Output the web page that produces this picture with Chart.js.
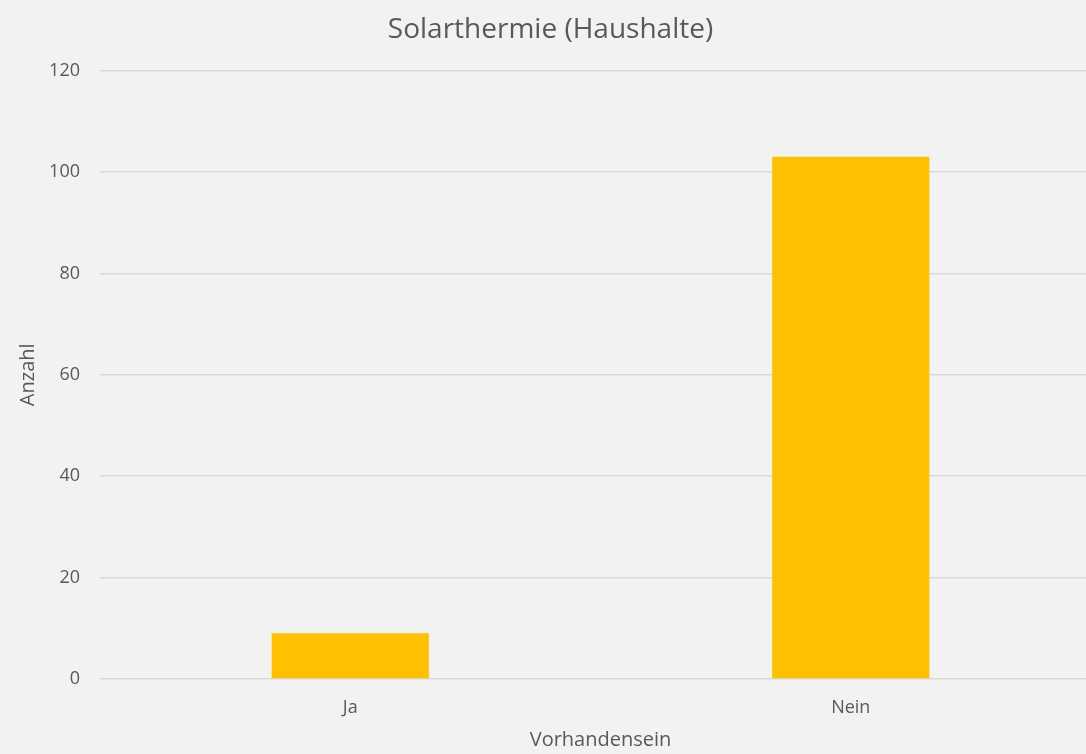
<!DOCTYPE html>
<html>
<head>
<meta charset="utf-8">
<script src="https://cdn.jsdelivr.net/npm/chart.js@4"></script>
<style>
  html, body { margin: 0; padding: 0; background: #f2f2f2; overflow: hidden; }
  #wrap { width: 1101px; height: 754px; }
</style>
</head>
<body>
<div id="wrap"><canvas id="myChart"></canvas></div>
<script>
// Werte
const categories = ['Ja', 'Nein'];
const counts = [9, 103];
const yTicks = [0, 20, 40, 60, 80, 100, 120];

const fontFamily = "'Open Sans', 'Liberation Sans', sans-serif";
const textColor = '#595959';

const ctx = document.getElementById('myChart').getContext('2d');

window.myChart = new Chart(ctx, {
    type: 'bar',
    data: {
        labels: categories,
        datasets: [{
            label: 'Anzahl',
            data: counts,
            backgroundColor: '#ffc000',
            borderWidth: 0,
            barPercentage: 1,
            categoryPercentage: 0.314
        }]
    },
    options: {
        responsive: true,
        maintainAspectRatio: false,
        animation: false,
        layout: { padding: 0 },
        plugins: {
            legend: { display: false },
            tooltip: { enabled: false },
            title: {
                display: true,
                text: 'Solarthermie (Haushalte)',
                color: textColor,
                font: { family: fontFamily, size: 28, weight: 'normal' },
                padding: { top: 13, bottom: 24 }
            }
        },
        scales: {
            x: {
                grid: { display: false },
                border: { display: false },
                ticks: {
                    color: textColor,
                    font: { family: fontFamily, size: 18 },
                    padding: 10
                },
                title: {
                    display: true,
                    text: 'Vorhandensein',
                    color: textColor,
                    font: { family: fontFamily, size: 20 },
                    padding: { top: 0, bottom: 2 }
                },
                afterFit: function(scale) { scale.height = 75; }
            },
            y: {
                min: 0,
                max: 120,
                afterBuildTicks: function(scale) {
                    scale.ticks = yTicks.map(v => ({ value: v }));
                },
                grid: { color: '#d9d9d9', lineWidth: 1.5, drawTicks: false },
                border: { display: false },
                ticks: {
                    color: textColor,
                    font: { family: fontFamily, size: 18 },
                    padding: 20
                },
                title: {
                    display: true,
                    text: 'Anzahl',
                    color: textColor,
                    font: { family: fontFamily, size: 20 },
                    padding: { top: 16, bottom: 0 }
                },
                afterFit: function(scale) { scale.width = 100; }
            }
        }
    }
});
</script>
</body>
</html>
